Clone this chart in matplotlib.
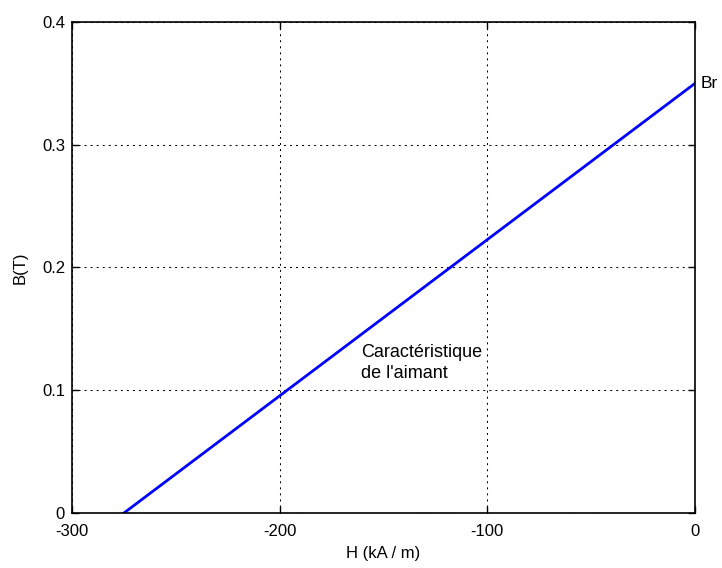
import matplotlib
matplotlib.use("Agg")
import matplotlib.pyplot as plt

# magnet characteristic (straight line from Hc to Br)
h_values = [-275, 0]
b_values = [0, 0.35]
x_ticks = [-300, -200, -100, 0]
y_ticks = [0, 0.1, 0.2, 0.3, 0.4]
y_tick_labels = ["0", "0.1", "0.2", "0.3", "0.4"]

plt.rcParams["font.family"] = ["Liberation Sans", "DejaVu Sans"]
plt.rcParams["font.size"] = 12
plt.rcParams["axes.unicode_minus"] = False

fig = plt.figure(figsize=(7.22, 5.68), dpi=100)
ax = fig.add_axes([0.0997, 0.0968, 0.8629, 0.8645])

ax.plot(h_values, b_values, color="#0000ff", linewidth=2)

ax.set_xlim(-300, 0)
ax.set_ylim(0, 0.4)
ax.set_xticks(x_ticks)
ax.set_yticks(y_ticks)
ax.set_yticklabels(y_tick_labels)
ax.grid(True, color="black", linestyle=(0, (1.9, 3.9)), linewidth=0.75)
ax.tick_params(direction="in", top=True, right=True, length=5, width=1)
ax.tick_params(axis="x", pad=8)
ax.tick_params(axis="y", pad=5)
for spine in ax.spines.values():
    spine.set_linewidth(1.2)

ax.set_xlabel("H (kA / m)", labelpad=5)
ax.set_ylabel("B(T)", labelpad=10)

ax.text(2.5, 0.35, "Br", ha="left", va="center", clip_on=False, fontsize=12.5)
ax.text(-161, 0.1224, "Caractéristique\nde l'aimant", ha="left", va="center",
        linespacing=1.3, fontsize=13)

fig.savefig("out.png", dpi=100)
